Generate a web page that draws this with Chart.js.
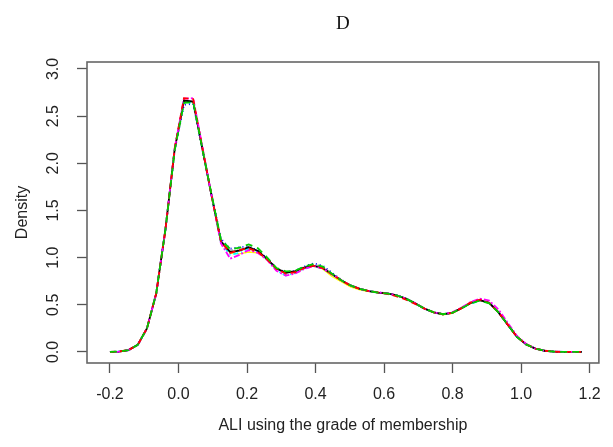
<!DOCTYPE html>
<html>
<head>
<meta charset="utf-8">
<script src="https://cdn.jsdelivr.net/npm/chart.js@4"></script>
<style>
  html, body { margin: 0; padding: 0; background: #fff; }
</style>
</head>
<body>
<canvas id="densityChart" width="613" height="447"></canvas>
<script>
// Evaluation grid of the density estimates
const xGrid = [
  -0.200, -0.173, -0.146, -0.119, -0.092, -0.065, -0.038, -0.011, 0.016, 0.043,
   0.070,  0.097,  0.124,  0.151,  0.178,  0.205,  0.232,  0.259, 0.286, 0.313,
   0.340,  0.367,  0.394,  0.421,  0.448,  0.475,  0.502,  0.529, 0.556, 0.583,
   0.610,  0.637,  0.664,  0.691,  0.718,  0.745,  0.772,  0.799, 0.826, 0.853,
   0.880,  0.907,  0.934,  0.961,  0.988,  1.015,  1.042,  1.069, 1.096, 1.123,
   1.150,  1.177
];

// Density of each run
const run1 = [
  0.000, 0.004, 0.020, 0.075, 0.250, 0.620, 1.300, 2.150, 2.665, 2.655,
  2.150, 1.650, 1.170, 1.060, 1.075, 1.110, 1.070, 0.985, 0.885, 0.840,
  0.855, 0.895, 0.915, 0.890, 0.825, 0.760, 0.705, 0.670, 0.645, 0.630,
  0.620, 0.600, 0.565, 0.515, 0.460, 0.420, 0.400, 0.415, 0.465, 0.520,
  0.550, 0.520, 0.420, 0.290, 0.160, 0.080, 0.035, 0.013, 0.004, 0.001,
  0.000, 0.000
];
const run2 = [
  0.000, 0.004, 0.020, 0.075, 0.250, 0.620, 1.300, 2.160, 2.690, 2.680,
  2.160, 1.650, 1.170, 1.050, 1.080, 1.100, 1.060, 0.980, 0.880, 0.830,
  0.845, 0.890, 0.915, 0.890, 0.825, 0.760, 0.705, 0.670, 0.645, 0.630,
  0.615, 0.590, 0.555, 0.510, 0.460, 0.420, 0.400, 0.415, 0.465, 0.525,
  0.555, 0.520, 0.420, 0.290, 0.160, 0.080, 0.035, 0.013, 0.004, 0.001,
  0.000, 0.000
];
const run3 = [
  0.000, 0.004, 0.020, 0.075, 0.250, 0.620, 1.300, 2.140, 2.640, 2.650,
  2.150, 1.660, 1.190, 1.090, 1.105, 1.140, 1.100, 1.000, 0.890, 0.855,
  0.860, 0.905, 0.930, 0.905, 0.830, 0.760, 0.705, 0.670, 0.645, 0.630,
  0.620, 0.600, 0.565, 0.515, 0.460, 0.420, 0.400, 0.415, 0.465, 0.515,
  0.545, 0.515, 0.420, 0.290, 0.160, 0.080, 0.035, 0.013, 0.004, 0.001,
  0.000, 0.000
];
const run4 = [
  0.000, 0.004, 0.020, 0.075, 0.250, 0.620, 1.300, 2.140, 2.620, 2.630,
  2.140, 1.660, 1.200, 1.095, 1.110, 1.120, 1.075, 0.990, 0.885, 0.845,
  0.860, 0.905, 0.940, 0.915, 0.840, 0.765, 0.705, 0.670, 0.645, 0.630,
  0.620, 0.600, 0.565, 0.515, 0.460, 0.420, 0.400, 0.415, 0.465, 0.520,
  0.550, 0.520, 0.420, 0.290, 0.160, 0.080, 0.035, 0.013, 0.004, 0.001,
  0.000, 0.000
];
const run5 = [
  0.000, 0.004, 0.020, 0.075, 0.250, 0.620, 1.300, 2.150, 2.650, 2.640,
  2.150, 1.650, 1.160, 1.030, 1.050, 1.100, 1.065, 0.980, 0.870, 0.810,
  0.835, 0.885, 0.910, 0.885, 0.825, 0.760, 0.705, 0.670, 0.645, 0.625,
  0.620, 0.600, 0.565, 0.515, 0.460, 0.420, 0.400, 0.415, 0.465, 0.515,
  0.540, 0.525, 0.420, 0.290, 0.160, 0.080, 0.035, 0.013, 0.004, 0.001,
  0.000, 0.000
];
const run6 = [
  0.000, 0.004, 0.020, 0.075, 0.250, 0.620, 1.300, 2.160, 2.685, 2.690,
  2.170, 1.650, 1.150, 0.990, 1.030, 1.080, 1.050, 0.975, 0.860, 0.810,
  0.830, 0.880, 0.910, 0.885, 0.825, 0.760, 0.705, 0.670, 0.645, 0.630,
  0.620, 0.600, 0.565, 0.515, 0.460, 0.420, 0.400, 0.420, 0.470, 0.530,
  0.565, 0.545, 0.450, 0.310, 0.170, 0.085, 0.035, 0.013, 0.004, 0.001,
  0.000, 0.000
];
const run7 = [
  0.000, 0.004, 0.020, 0.075, 0.250, 0.620, 1.300, 2.150, 2.660, 2.650,
  2.150, 1.650, 1.170, 1.050, 1.040, 1.060, 1.050, 0.980, 0.885, 0.840,
  0.855, 0.890, 0.910, 0.880, 0.800, 0.745, 0.690, 0.660, 0.640, 0.630,
  0.620, 0.600, 0.565, 0.515, 0.460, 0.420, 0.395, 0.410, 0.460, 0.515,
  0.545, 0.515, 0.420, 0.290, 0.160, 0.080, 0.035, 0.013, 0.004, 0.001,
  0.000, 0.000
];
const run8 = [
  0.000, 0.004, 0.020, 0.075, 0.250, 0.620, 1.300, 2.150, 2.655, 2.660,
  2.150, 1.650, 1.175, 1.080, 1.090, 1.110, 1.070, 0.985, 0.885, 0.845,
  0.860, 0.900, 0.930, 0.900, 0.830, 0.760, 0.705, 0.670, 0.645, 0.635,
  0.620, 0.600, 0.565, 0.515, 0.460, 0.420, 0.400, 0.415, 0.465, 0.520,
  0.550, 0.520, 0.420, 0.290, 0.160, 0.080, 0.035, 0.013, 0.004, 0.001,
  0.000, 0.000
];

const xTicks = [ -0.2, 0.0, 0.2, 0.4, 0.6, 0.8, 1.0, 1.2 ];
const yTicks = [ 0.0, 0.5, 1.0, 1.5, 2.0, 2.5, 3.0 ];

// R-style colours and line types, one per run
let runs = [ run1, run2, run3, run4, run5, run6, run7, run8 ];
let colours = [ '#000000', '#ff0000', '#00cd00', '#0000ff', '#00ffff', '#ff00ff', '#ffff00', '#bebebe' ];
let dashes = [ [], [6, 4], [7, 5], [1, 3], [1, 3, 5, 3], [2, 2, 6, 2], [], [6, 4] ];
// stacking: lower number is painted later (on top)
let layers = [ 3, 1, 0, 4, 5, 2, 7, 6 ];

let datasets = runs.map( function ( run, i )
{
    return {
        data: xGrid.map( ( x, k ) => ( { x: x, y: run[ k ] } ) ),
        borderColor: colours[ i ],
        borderDash: dashes[ i ],
        borderWidth: i === 6 ? 1.4 : 1.8,
        pointRadius: 0,
        fill: false,
        tension: 0,
        order: layers[ i ]
    };
} );

const sansFont = '"Liberation Sans", Arial, sans-serif';

// Box round the plotting region
const frameBox = {
    id: 'frameBox',
    afterDatasetsDraw ( chart )
    {
        let ctx = chart.ctx;
        let a = chart.chartArea;
        ctx.save();
        ctx.strokeStyle = '#666';
        ctx.lineWidth = 1.6;
        ctx.strokeRect( a.left, a.top, a.right - a.left, a.bottom - a.top );
        ctx.restore();
    }
};

let ctx = document.getElementById( 'densityChart' ).getContext( '2d' );
let chart = new Chart( ctx, {
    type: 'line',
    data: { datasets: datasets },
    plugins: [ frameBox ],
    options: {
        responsive: false,
        animation: false,
        layout: { padding: { top: 0, right: 11, bottom: 0, left: 0 } },
        plugins: {
            legend: { display: false },
            tooltip: { enabled: false },
            title: {
                display: true,
                text: 'D',
                fullSize: false,
                color: '#111',
                font: { family: '"Liberation Serif", "Times New Roman", serif', size: 19, weight: 'normal', lineHeight: 1.2 },
                padding: { top: 13, bottom: 26.2 }
            }
        },
        scales: {
            x: {
                type: 'linear',
                min: -0.267,
                max: 1.227,
                afterBuildTicks: function ( scale ) { scale.ticks = xTicks.map( v => ( { value: v } ) ); },
                afterFit: function ( scale ) { scale.height = 84; },
                border: { display: false },
                grid: { drawOnChartArea: false, drawTicks: true, tickLength: 10, tickColor: '#555', tickWidth: 1.3 },
                ticks: {
                    autoSkip: false,
                    maxRotation: 0,
                    minRotation: 0,
                    padding: 12,
                    color: '#222',
                    font: { family: sansFont, size: 16 },
                    callback: v => v.toFixed( 1 )
                },
                title: {
                    display: true,
                    text: 'ALI using the grade of membership',
                    color: '#222',
                    font: { family: sansFont, size: 16, lineHeight: 1.2 },
                    padding: { top: 0, bottom: 11.7 }
                }
            },
            y: {
                type: 'linear',
                min: -0.117,
                max: 3.074,
                afterBuildTicks: function ( scale ) { scale.ticks = yTicks.map( v => ( { value: v } ) ); },
                afterFit: function ( scale ) { scale.width = 87; },
                border: { display: false },
                grid: { drawOnChartArea: false, drawTicks: true, tickLength: 10, tickColor: '#555', tickWidth: 1.3 },
                ticks: {
                    autoSkip: false,
                    minRotation: 90,
                    maxRotation: 90,
                    crossAlign: 'center',
                    padding: 12,
                    color: '#222',
                    font: { family: sansFont, size: 16 },
                    callback: v => v.toFixed( 1 )
                },
                title: {
                    display: true,
                    text: 'Density',
                    color: '#222',
                    font: { family: sansFont, size: 16, lineHeight: 1.2 },
                    padding: { top: 13.4, bottom: 0 }
                }
            }
        }
    }
} );
</script>
</body>
</html>
